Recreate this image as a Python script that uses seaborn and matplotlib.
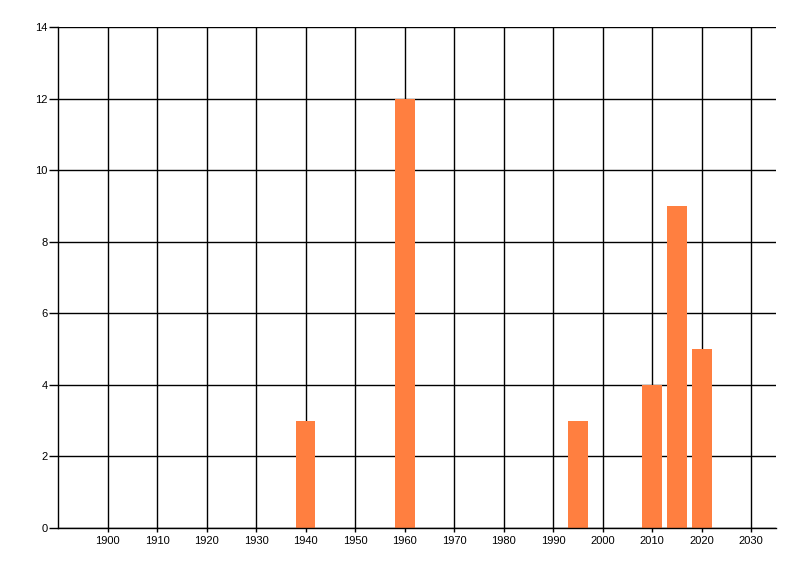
import matplotlib
matplotlib.use("Agg")
import matplotlib.pyplot as plt
import seaborn as sns
import pandas as pd

years = [1940, 1960, 1995, 2010, 2015, 2020]
counts = [3, 12, 3, 4, 9, 5]
x_ticks = list(range(1900, 2031, 10))
y_ticks = list(range(0, 15, 2))

sns.set_style("white")
plt.rcParams['font.family'] = ['Liberation Sans', 'DejaVu Sans']

df = pd.DataFrame({"year": years, "count": counts})

fig = plt.figure(figsize=(8, 5.76), dpi=100)
ax = fig.add_axes([58/800, 1-528/576, (776-58)/800, (528-27)/576])
ax.set_axisbelow(True)
for xv in x_ticks:
    ax.axvline(xv, color="black", lw=1.0, zorder=0)
for yv in y_ticks:
    ax.axhline(yv, color="black", lw=1.0, zorder=0)

sns.barplot(data=df, x="year", y="count", native_scale=True, color="#FF7F40",
            saturation=1, width=0.8, ax=ax, zorder=2, linewidth=0, edgecolor="none")

ax.set_xlim(1890, 2035)
ax.set_ylim(0, 14)
ax.set_xticks(x_ticks)
ax.set_xticklabels([str(v) for v in x_ticks])
ax.set_yticks(y_ticks)
ax.set_yticklabels([str(v) for v in y_ticks])
ax.set_xlabel("")
ax.set_ylabel("")
for s in ["top", "right"]:
    ax.spines[s].set_visible(False)
for s in ["left", "bottom"]:
    ax.spines[s].set_color("black")
    ax.spines[s].set_linewidth(1.0)
ax.tick_params(axis="both", labelsize=8, colors="black", width=1.0,
               direction="out", left=True, bottom=True)
ax.tick_params(axis="y", length=6.5, pad=1)
ax.tick_params(axis="x", length=3, pad=3)
fig.savefig("out.png", dpi=100)
